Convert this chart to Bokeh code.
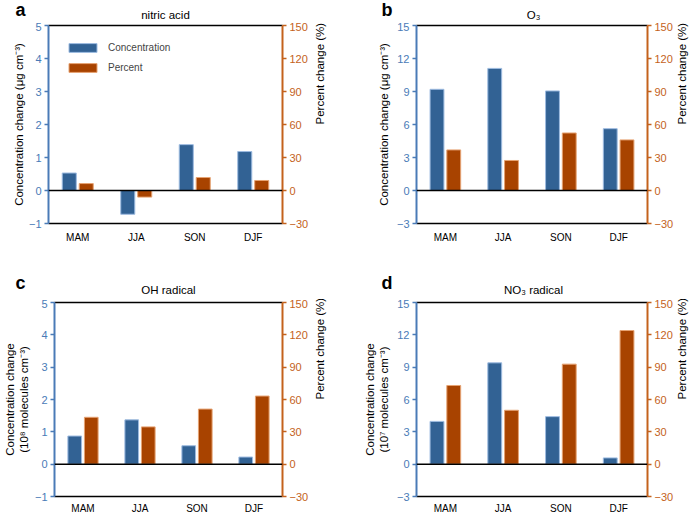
import math
from bokeh.plotting import figure
from bokeh.models import (Range1d, LinearAxis, FixedTicker, Span,
                          Legend, LegendItem, ColumnDataSource)
from bokeh.core.properties import value
from bokeh.transform import dodge
from bokeh.layouts import row, column
from bokeh.embed import file_html
from bokeh.resources import INLINE

# ---------------- data ----------------
seasons = ["MAM", "JJA", "SON", "DJF"]

nitric_conc = [0.53, -0.72, 1.39, 1.18]
nitric_pct = [6.3, -6.0, 11.8, 9.1]

o3_conc = [9.2, 11.1, 9.05, 5.62]
o3_pct = [36.9, 27.3, 52.3, 46.0]

oh_conc = [0.87, 1.37, 0.57, 0.22]
oh_pct = [43.5, 34.6, 51.1, 63.2]

no3_conc = [3.97, 9.4, 4.41, 0.58]
no3_pct = [73.0, 50.0, 92.8, 124.0]

left_ticks_small = [-1, 0, 1, 2, 3, 4, 5]
left_ticks_large = [-3, 0, 3, 6, 9, 12, 15]
right_ticks = [-30, 0, 30, 60, 90, 120, 150]

# ---------------- style ----------------
BLUE = "#326294"
ORANGE = "#a84300"
BLUE_AX = "#4a7bb7"
ORANGE_AX = "#c4621c"
FONT = "Liberation Sans"

# category slots: one unit per season, centred at i + 0.5
slot = [i + 0.5 for i in range(len(seasons))]


def header(width, height, letter, lx, ly, title, tx, ty):
    h = figure(width=width, height=height, x_range=Range1d(0, width),
               y_range=Range1d(height, 0), output_backend="svg",
               toolbar_location=None, min_border=0,
               min_border_left=0, min_border_right=0,
               min_border_top=0, min_border_bottom=0,
               x_axis_location=None, y_axis_location=None)
    h.outline_line_color = None
    h.grid.visible = False
    h.text(x=[lx], y=[ly], text=[letter], text_font=value(FONT),
           text_font_size="18px", text_font_style="bold",
           text_baseline="middle", text_align="left", text_color="black")
    h.text(x=[tx], y=[ty], text=[title], text_font=value(FONT),
           text_font_size="11.5px", text_baseline="middle",
           text_align="center", text_color="black")
    return h


def make_panel(conc, pct, left_range, left_ticks, left_label,
               width, height, mbl, mbr, mbt, mbb, x_standoff, ylab_standoff,
               rlab_standoff, legend=False):
    p = figure(x_range=Range1d(0, len(seasons)),
               y_range=Range1d(*left_range), width=width, height=height,
               output_backend="svg", toolbar_location=None,
               min_border_left=mbl, min_border_right=mbr,
               min_border_top=mbt, min_border_bottom=mbb)
    p.extra_y_ranges = {"pct": Range1d(right_ticks[0], right_ticks[-1])}
    src = ColumnDataSource(dict(slot=slot, season=seasons, conc=conc, pct=pct))

    rb = p.vbar(x=dodge("slot", -0.145), top="conc", bottom=0,
                width=0.24, source=src, fill_color=BLUE, line_color="#9dbbe0",
                line_width=1)
    ro = p.vbar(x=dodge("slot", 0.145), top="pct", bottom=0,
                width=0.24, source=src, y_range_name="pct", fill_color=ORANGE,
                line_color="#e6a373", line_width=1)

    p.xgrid.grid_line_color = None
    p.ygrid.grid_line_color = None
    p.outline_line_color = None

    xa = p.xaxis[0]
    xa.ticker = FixedTicker(ticks=slot)
    xa.major_label_overrides = {s: n for s, n in zip(slot, seasons)}
    xa.axis_line_color = "black"
    xa.axis_line_width = 1.5
    xa.major_tick_line_color = None
    xa.major_tick_out = 0
    xa.major_tick_in = 0
    xa.minor_tick_line_color = None
    xa.major_label_text_font = FONT
    xa.major_label_text_font_size = "10px"
    xa.major_label_text_color = "black"
    xa.major_label_standoff = x_standoff

    # top frame line
    ta = LinearAxis(ticker=FixedTicker(ticks=[]))
    ta.axis_line_color = "black"
    ta.axis_line_width = 1.5
    ta.major_tick_out = 0
    ta.major_tick_in = 0
    ta.minor_tick_out = 0
    ta.minor_tick_in = 0
    ta.major_label_standoff = 0
    ta.major_label_text_font_size = "0px"
    p.add_layout(ta, "above")

    ya = p.yaxis[0]
    ya.ticker = FixedTicker(ticks=left_ticks)
    ya.axis_line_color = BLUE_AX
    ya.axis_line_width = 2
    ya.major_tick_line_color = BLUE_AX
    ya.major_tick_line_width = 1.5
    ya.major_tick_out = 4
    ya.major_tick_in = 0
    ya.minor_tick_line_color = None
    ya.major_label_text_color = BLUE_AX
    ya.major_label_text_font = FONT
    ya.major_label_text_font_size = "11px"
    ya.major_label_standoff = 3
    ya.axis_label = left_label
    ya.axis_label_text_font = FONT
    ya.axis_label_text_font_size = "11.5px"
    ya.axis_label_text_font_style = "normal"
    ya.axis_label_text_color = "black"
    ya.axis_label_standoff = ylab_standoff

    ra = LinearAxis(y_range_name="pct", ticker=FixedTicker(ticks=right_ticks))
    ra.axis_line_color = ORANGE_AX
    ra.axis_line_width = 2
    ra.major_tick_line_color = ORANGE_AX
    ra.major_tick_line_width = 1.5
    ra.major_tick_out = 4
    ra.major_tick_in = 0
    ra.minor_tick_line_color = None
    ra.major_label_text_color = ORANGE_AX
    ra.major_label_text_font = FONT
    ra.major_label_text_font_size = "11px"
    ra.major_label_standoff = 3
    ra.axis_label = "Percent change (%)"
    ra.axis_label_text_font = FONT
    ra.axis_label_text_font_size = "11.5px"
    ra.axis_label_text_font_style = "normal"
    ra.axis_label_text_color = "black"
    ra.axis_label_standoff = rlab_standoff
    if "axis_label_orientation" in LinearAxis.properties():
        ra.axis_label_orientation = math.pi / 2
    p.add_layout(ra, "right")

    p.add_layout(Span(location=0, dimension="width", line_color="black",
                      line_width=1.5))

    if legend:
        lg = Legend(items=[LegendItem(label="Concentration", renderers=[rb]),
                           LegendItem(label="Percent", renderers=[ro])],
                    location="top_left", margin=17, padding=0, spacing=9,
                    glyph_width=35, glyph_height=11, label_height=11,
                    label_standoff=8, label_text_font=FONT,
                    label_text_font_size="10px", border_line_color=None,
                    background_fill_alpha=0)
        p.add_layout(lg, "center")
    return p


ha = header(356, 22, "a", 15, 9, "nitric acid", 165, 14)
pa = make_panel(nitric_conc, nitric_pct, (-1, 5), left_ticks_small,
                "Concentration change (μg cm⁻³)",
                356, 236, 48, 74, 3, 35, 8, 1, 9, legend=True)

hb = header(341, 22, "b", 25, 9, "O₃", 177, 14)
pb = make_panel(o3_conc, o3_pct, (-3, 15), left_ticks_large,
                "Concentration change (μg cm⁻³)",
                341, 236, 60, 46, 3, 35, 8, 4, 6)

hc = header(356, 41, "c", 15, 24, "OH radical", 168, 31)
pc = make_panel(oh_conc, oh_pct, (-1, 5), left_ticks_small,
                "Concentration change\n(10⁸ molecules cm⁻³)",
                356, 217, 48, 74, 3, 17, 6, 2, 9)

hd = header(341, 41, "d", 25, 24, "NO₃ radical", 177, 31)
pd = make_panel(no3_conc, no3_pct, (-3, 15), left_ticks_large,
                "Concentration change\n(10⁷ molecules cm⁻³)",
                341, 217, 60, 46, 3, 17, 6, 4, 6)

layout = column(row(ha, hb), row(pa, pb), row(hc, hd), row(pc, pd))
open("out.html", "w").write(file_html(layout, INLINE))
